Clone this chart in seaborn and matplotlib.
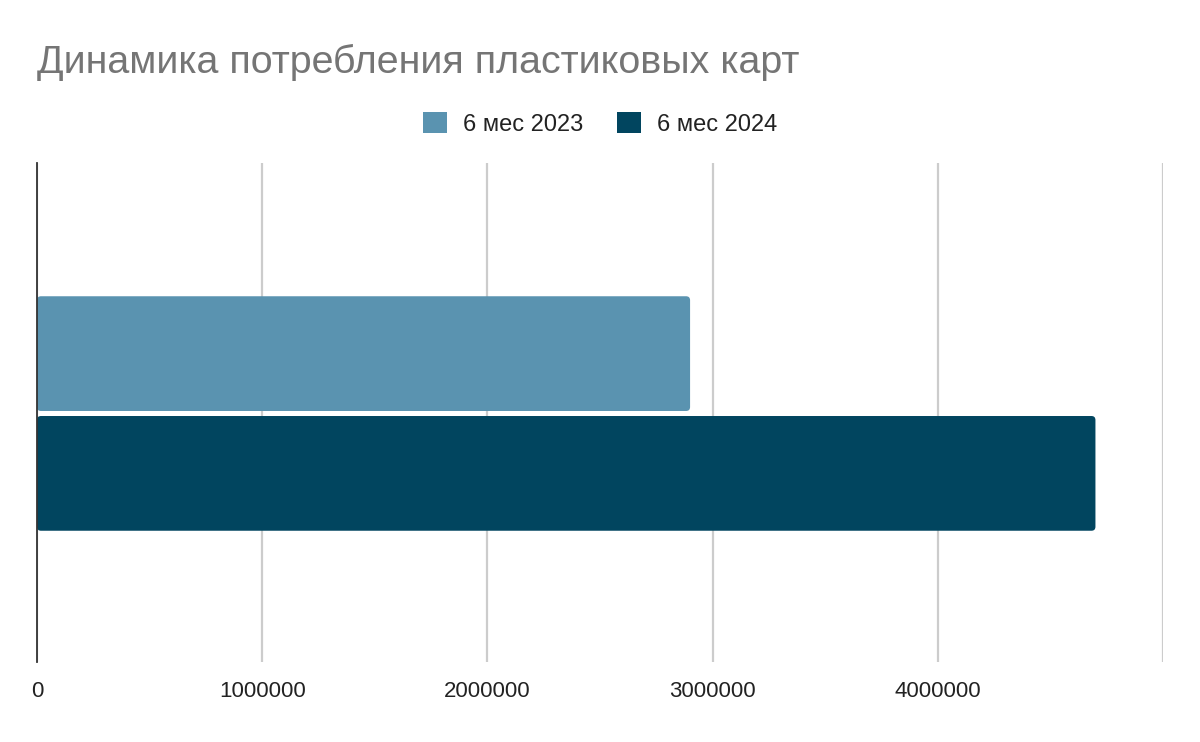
import matplotlib
matplotlib.use("Agg")
import matplotlib.pyplot as plt
import seaborn as sns
import pandas as pd
from matplotlib.patches import FancyBboxPatch, Patch

# Data
category = ["Пластиковые карты"]
periods = ["6 мес 2023", "6 мес 2024"]
values = [2900000, 4700000]
colors = ["#5a93b0", "#01455f"]
xticks = [0, 1000000, 2000000, 3000000, 4000000, 5000000]
xticklabels = ["0", "1000000", "2000000", "3000000", "4000000", ""]
title = "Динамика потребления пластиковых карт"

df = pd.DataFrame({"cat": category * len(periods), "period": periods, "value": values})

sns.set_theme(style="white")
plt.rcParams["font.family"] = ["Liberation Sans", "DejaVu Sans"]

fig = plt.figure(figsize=(12, 7.42), dpi=100)
ax = fig.add_axes([37 / 1200, 1 - 662 / 742, (1163 - 37) / 1200, (662 - 163) / 742])

sns.barplot(data=df, y="cat", x="value", hue="period", palette=colors, orient="h",
            width=0.48, gap=0.042, ax=ax, legend=False, saturation=1, zorder=3)

ax.set_xlim(0, 5000000)
ax.set_ylim(0.498, -0.502)

# round the bar corners slightly
xpp = 5000000 / (1163 - 37)
ypp = 1.0 / (662 - 163)
for p in list(ax.patches):
    x0, y0 = p.get_x(), p.get_y()
    w, h = p.get_width(), p.get_height()
    fb = FancyBboxPatch((x0, y0), w, h, boxstyle=f"round,pad=0,rounding_size={4 * xpp}",
                        mutation_aspect=ypp / xpp, facecolor=p.get_facecolor(),
                        edgecolor="none", zorder=3)
    p.remove()
    ax.add_patch(fb)

ax.set_xticks(xticks)
ax.set_xticklabels(xticklabels, fontsize=16, color="#222222")
ax.tick_params(axis="x", length=0, pad=14)
ax.set_yticks([])
ax.set_xlabel("")
ax.set_ylabel("")
ax.grid(axis="x", color="#cccccc", linewidth=1.6, zorder=0)
for s in ["top", "right", "bottom"]:
    ax.spines[s].set_visible(False)
ax.spines["left"].set_color("#333333")
ax.spines["left"].set_linewidth(1.3)
ax.spines["left"].set_zorder(4)

fig.text(37 / 1200, 1 - 62 / 742, title, fontsize=28.4, color="#757575", va="center", ha="left")

handles = [Patch(facecolor=c, edgecolor="none", label=l) for c, l in zip(colors, periods)]
fig.legend(handles=handles, loc="center", bbox_to_anchor=(600 / 1200, 1 - 124 / 742), ncol=2,
           frameon=False, fontsize=17, handlelength=1.0, handleheight=1.0, handletextpad=0.68,
           columnspacing=1.44, labelcolor="#222222")

fig.savefig("out.png", dpi=100, facecolor="white")
